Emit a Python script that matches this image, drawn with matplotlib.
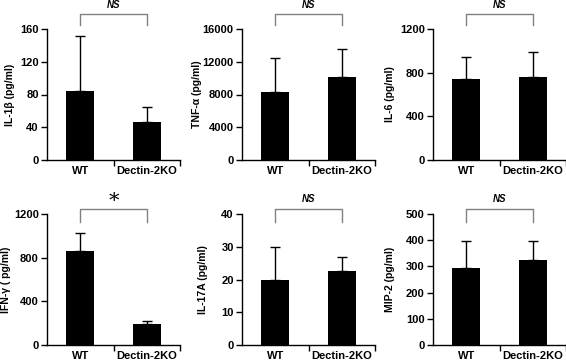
import numpy as np
import matplotlib
matplotlib.use("Agg")
import matplotlib.pyplot as plt

plt.rcParams['font.family'] = ['Liberation Sans', 'DejaVu Sans']
plt.rcParams['font.weight'] = 'bold'

groups = ['WT', 'Dectin-2KO']

# six cytokines, mean and upper SD
labels = ['IL-1\u03b2 (pg/ml)', 'TNF-\u03b1 (pg/ml)', 'IL-6 (pg/ml)',
          'IFN-\u03b3 ( pg/ml)', 'IL-17A (pg/ml)', 'MIP-2 (pg/ml)']
means = [[84, 46], [8300, 10100], [745, 762],
         [860, 192], [19.7, 22.5], [294, 325]]
errs = [[67, 19], [4200, 3400], [195, 223],
        [165, 23], [10.3, 4.5], [103, 72]]
ymax = [160, 16000, 1200, 1200, 40, 500]
ystep = [40, 4000, 400, 400, 10, 100]
signif = ['NS', 'NS', 'NS', '*', 'NS', 'NS']

fig = plt.figure(figsize=(5.66, 3.61), dpi=100)
W, H = 566.0, 361.0
lefts = [47, 242, 433]
# pixel y of zero line and top for each row
rows = [(160, 29), (344.7, 214.3)]
labx = [-0.28, -0.34, -0.32, -0.31, -0.29, -0.32]

x = np.arange(len(groups))

for i in range(6):
    r, c = divmod(i, 3)
    y0, y1 = rows[r]
    ax = fig.add_axes([lefts[c] / W, 1 - y0 / H, 133 / W, (y0 - y1) / H])
    ax.bar(x, means[i], width=0.42, color='black', zorder=2)
    ax.errorbar(x, means[i], yerr=[np.zeros(2), errs[i]], fmt='none',
                ecolor='black', elinewidth=1, capsize=3.5, capthick=1, zorder=1)
    ax.set_xlim(-0.5, 1.5)
    ax.set_ylim(0, ymax[i])
    ax.set_yticks(np.arange(0, ymax[i] + 1, ystep[i]))
    ax.set_xticks([0.5, 1.5], minor=False)
    ax.set_xticklabels([])
    ax.set_xticks(x, minor=True)
    ax.set_xticklabels(groups, minor=True, fontsize=8, fontweight='bold')
    ax.tick_params(axis='x', which='minor', length=0, pad=4.5)
    ax.tick_params(axis='x', which='major', length=4, width=1, direction='out')
    ax.tick_params(axis='y', length=4, width=1, direction='out', labelsize=8, pad=2)
    for lab in ax.get_yticklabels():
        lab.set_fontweight('bold')
    for s in ['top', 'right']:
        ax.spines[s].set_visible(False)
    for s in ['left', 'bottom']:
        ax.spines[s].set_linewidth(1)
    ax.set_ylabel(labels[i], fontsize=7.5, fontweight='bold', va='center')
    ax.yaxis.set_label_coords(labx[i], 0.5)

    # significance bracket
    tr = ax.get_xaxis_transform()
    if r == 0:
        yb, yl, yt = 1.03, 1.118, 1.183
    else:
        yb, yl, yt = 0.944, 1.04, 1.12
    ax.plot([0, 0, 1, 1], [yb, yl, yl, yb], color='#808080', lw=1,
            transform=tr, clip_on=False)
    if signif[i] == '*':
        ax.text(0.5, yt - 0.02, '*', transform=tr, ha='center', va='center',
                fontsize=15, fontweight='normal', family='DejaVu Serif')
    else:
        ax.text(0.5, yt, signif[i], transform=tr, ha='center', va='center',
                fontsize=7, fontweight='bold', style='italic')

fig.savefig('out.png', dpi=100)
